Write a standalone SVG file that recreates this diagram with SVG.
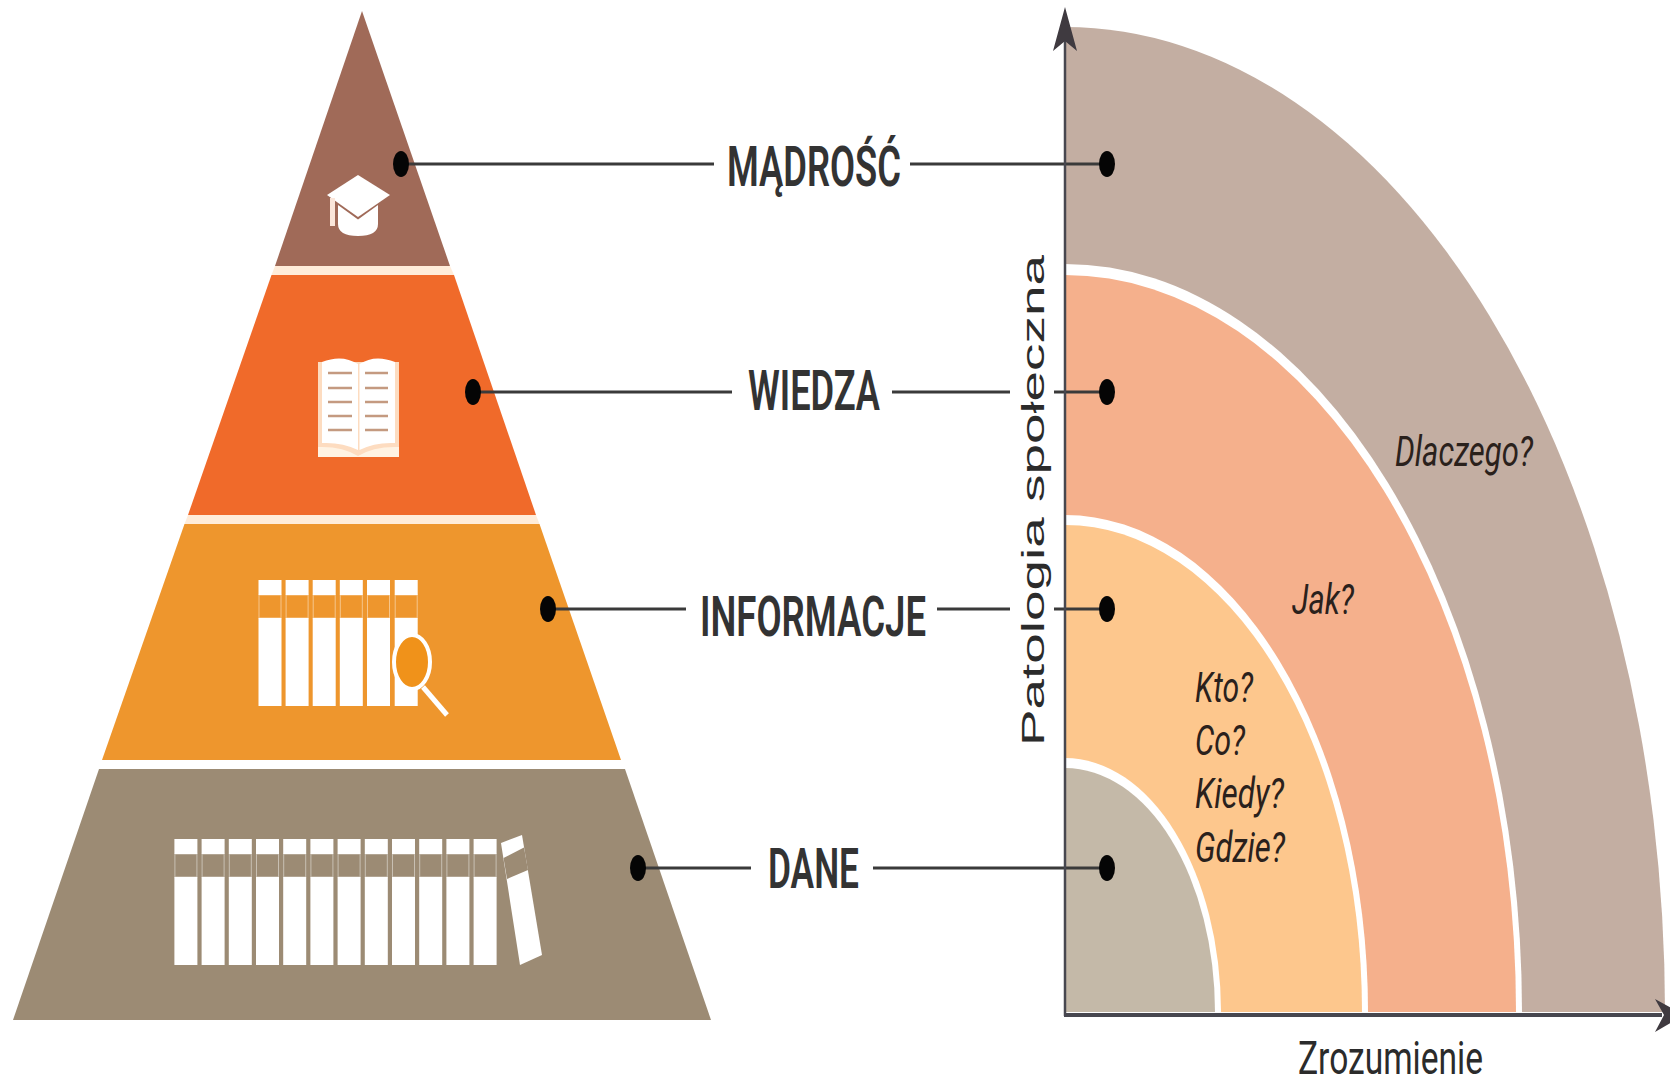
<svg xmlns="http://www.w3.org/2000/svg" xmlns:xlink="http://www.w3.org/1999/xlink" width="1670" height="1085" viewBox="0 0 1670 1085">
<style>
.lbl{font-family:Roboto,"Liberation Sans",sans-serif;font-weight:600;font-size:55px;fill:#333}
.q{font-family:Roboto,"Liberation Sans",sans-serif;font-style:italic;font-size:43px;fill:#2a211c}
.ax{font-family:Roboto,"Liberation Sans",sans-serif;font-size:47px;fill:#2b2b2b}
.yl{font-family:"Liberation Sans",Arial,sans-serif;font-size:31px;fill:#2b2b2b}
.conn{stroke:#3a3a3a;stroke-width:3;fill:none}
.dot{fill:#050505}
.axis{stroke:#47474f;fill:none}
.arrow{fill:#3f3a40}
.w{fill:#fff}
.gap{fill:#ffecd9}
.pl{stroke:#c49a80;stroke-width:2.500;fill:none}
</style>
<defs>
<g id="spine">
<rect class="w" x="0" y="0" width="23" height="15"/>
<rect x="0.5" y="15" width="22" height="23" fill="none" stroke="#fff" stroke-opacity=".45" stroke-width="1"/>
<rect class="w" x="0" y="38" width="23" height="88"/>
</g>
</defs>
<rect width="1670" height="1085" fill="#fff"/>

<g id="quadrant">
<path d="M1065 1012V27A600 985 0 0 1 1665 1012Z" fill="#c3aea2"/>
<path d="M1065 1012V264A457 748 0 0 1 1522 1012Z" fill="#fff"/>
<path d="M1065 1012V275A451 737 0 0 1 1516 1012Z" fill="#f5b08c"/>
<path d="M1065 1012V515A303 497 0 0 1 1368 1012Z" fill="#fff"/>
<path d="M1065 1012V525A297 487 0 0 1 1362 1012Z" fill="#fdc78d"/>
<path d="M1065 1012V758A156 254 0 0 1 1221 1012Z" fill="#fff"/>
<path d="M1065 1012V768A150 244 0 0 1 1215 1012Z" fill="#c4b9a8"/>
</g>

<g id="madrosc">
<polygon points="362,11 450,266 275,266" fill="#a06a58"/>
<polygon class="gap" points="275,266 450,266 454,275 271.500,275"/>
<path class="w" d="M327 195L358 175L390 195L358 217Z"/>
<path class="w" d="M338 205L358 219.500L378 205V224Q378 236 358 236Q338 236 338 224Z"/>
<rect x="330" y="198" width="5" height="28" fill="#fbe6da"/>
<text class="lbl" x="727" y="186" textLength="174" lengthAdjust="spacingAndGlyphs">MĄDROŚĆ</text>
</g>

<g id="wiedza">
<polygon points="271.500,275 454,275 536,515 188,515" fill="#f06a2a"/>
<polygon class="gap" points="188,515 536,515 539.500,524 184.500,524"/>
<rect x="318" y="362" width="81" height="95" fill="#fddcc0"/>
<path class="w" d="M322 362Q342 354 358 364V450Q342 442 322 443Z"/>
<path class="w" d="M395 362Q375 354 359.500 364V450Q375 442 395 443Z"/>
<path d="M318 447Q342 446 358 456Q374 446 399 447V457H318Z" fill="#fff3e3"/>
<path class="pl" d="M328 373H352M365 373H388M328 388H352M365 388H388M328 402H352M365 402H388M328 416H352M365 416H388M328 430H352M365 430H388"/>
<text class="lbl" x="748" y="410" textLength="132" lengthAdjust="spacingAndGlyphs">WIEDZA</text>
</g>

<g id="informacje">
<polygon points="184.500,524 539.500,524 621,760 102,760" fill="#ee962d"/>
<use xlink:href="#spine" href="#spine" x="258.500" y="580"/>
<use xlink:href="#spine" href="#spine" x="285.600" y="580"/>
<use xlink:href="#spine" href="#spine" x="312.700" y="580"/>
<use xlink:href="#spine" href="#spine" x="339.800" y="580"/>
<use xlink:href="#spine" href="#spine" x="367" y="580"/>
<use xlink:href="#spine" href="#spine" x="394.700" y="580"/>
<ellipse cx="412" cy="662" rx="18" ry="27" fill="#f0921a" stroke="#fff" stroke-width="4"/>
<path d="M423 687L447 715" stroke="#fff" stroke-width="5" fill="none"/>
<text class="lbl" x="700" y="636" textLength="226" lengthAdjust="spacingAndGlyphs">INFORMACJE</text>
</g>

<g id="dane">
<polygon points="99,769 625,769 711,1020 13,1020" fill="#9c8b74"/>
<use xlink:href="#spine" href="#spine" x="174.400" y="839"/>
<use xlink:href="#spine" href="#spine" x="201.600" y="839"/>
<use xlink:href="#spine" href="#spine" x="228.800" y="839"/>
<use xlink:href="#spine" href="#spine" x="256" y="839"/>
<use xlink:href="#spine" href="#spine" x="283.200" y="839"/>
<use xlink:href="#spine" href="#spine" x="310.400" y="839"/>
<use xlink:href="#spine" href="#spine" x="337.600" y="839"/>
<use xlink:href="#spine" href="#spine" x="364.800" y="839"/>
<use xlink:href="#spine" href="#spine" x="392" y="839"/>
<use xlink:href="#spine" href="#spine" x="419.200" y="839"/>
<use xlink:href="#spine" href="#spine" x="446.400" y="839"/>
<use xlink:href="#spine" href="#spine" x="473.600" y="839"/>
<polygon class="w" points="501,843 522,835 542,955 520,965"/>
<polygon points="503.500,858 524,847.600 528,870 507,879" fill="#9c8b74"/>
<text class="lbl" x="768" y="888" textLength="91" lengthAdjust="spacingAndGlyphs">DANE</text>
</g>

<g id="connectors">
<path class="conn" d="M401 164H714M910 164H1107"/>
<path class="conn" d="M473 392H732M892 392H1010M1054 392H1107"/>
<path class="conn" d="M548 609H686M937 609H1010M1054 609H1107"/>
<path class="conn" d="M638 868H751M873 868H1107"/>
<ellipse class="dot" cx="401" cy="164" rx="8" ry="13"/>
<ellipse class="dot" cx="473" cy="392" rx="8" ry="13"/>
<ellipse class="dot" cx="548" cy="609" rx="8" ry="13"/>
<ellipse class="dot" cx="638" cy="868" rx="8" ry="13"/>
<ellipse class="dot" cx="1107" cy="164" rx="8" ry="13"/>
<ellipse class="dot" cx="1107" cy="392" rx="8" ry="13"/>
<ellipse class="dot" cx="1107" cy="609" rx="8" ry="13"/>
<ellipse class="dot" cx="1107" cy="868" rx="8" ry="13"/>
<path class="axis" stroke-width="2.500" d="M1065 35V1016"/>
<path class="axis" stroke-width="4" d="M1064 1015H1662"/>
<polygon class="arrow" points="1065,7 1077,51 1065,41 1053,51"/>
<polygon class="arrow" points="1684,1015 1655,1032 1664,1015 1655,999"/>
</g>

<g id="labels">
<text class="yl" transform="translate(1044 746) rotate(-90)" textLength="491" lengthAdjust="spacingAndGlyphs">Patologia społeczna</text>
<text class="q" x="1395" y="466" textLength="138" lengthAdjust="spacingAndGlyphs">Dlaczego?</text>
<text class="q" x="1292" y="614" textLength="62" lengthAdjust="spacingAndGlyphs">Jak?</text>
<text class="q" x="1195" y="702" textLength="58" lengthAdjust="spacingAndGlyphs">Kto?</text>
<text class="q" x="1195" y="755" textLength="50" lengthAdjust="spacingAndGlyphs">Co?</text>
<text class="q" x="1195" y="808" textLength="89" lengthAdjust="spacingAndGlyphs">Kiedy?</text>
<text class="q" x="1195" y="862" textLength="90" lengthAdjust="spacingAndGlyphs">Gdzie?</text>
<text class="ax" x="1298" y="1074" textLength="185" lengthAdjust="spacingAndGlyphs">Zrozumienie</text>
</g>
</svg>
